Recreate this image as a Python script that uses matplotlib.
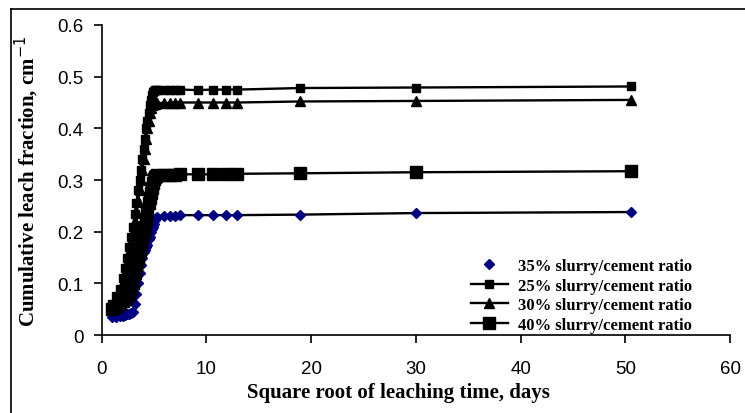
import matplotlib.pyplot as plt
from matplotlib.lines import Line2D

# square root of leaching time (days) at each sampling point
sqrt_t = [1.0, 1.41, 1.73, 2.0, 2.24, 2.45, 2.65, 2.83, 3.0, 3.16, 3.32, 3.46, 3.61, 3.74,
          3.87, 4.0, 4.12, 4.24, 4.36, 4.47, 4.58, 4.69, 4.8, 4.9, 5.0, 5.1, 5.2, 5.29,
          5.92, 6.48, 7.0, 7.48, 9.17, 10.58, 11.83, 12.96, 18.97, 30.0, 50.5]

cf_35 = [0.035, 0.034, 0.036, 0.037, 0.038, 0.040, 0.041, 0.042, 0.045, 0.060, 0.080, 0.100,
         0.120, 0.135, 0.150, 0.160, 0.165, 0.170, 0.175, 0.185, 0.190, 0.200, 0.205, 0.210,
         0.215, 0.222, 0.227, 0.229, 0.230, 0.231, 0.231, 0.232, 0.232, 0.232, 0.232, 0.232,
         0.233, 0.236, 0.238]
cf_25 = [0.060, 0.075, 0.090, 0.110, 0.130, 0.150, 0.170, 0.190, 0.210, 0.235, 0.255, 0.280,
         0.300, 0.320, 0.340, 0.360, 0.380, 0.400, 0.415, 0.430, 0.445, 0.455, 0.465, 0.470,
         0.472, 0.474, 0.475, 0.475, 0.475, 0.475, 0.475, 0.475, 0.474, 0.475, 0.475, 0.475,
         0.478, 0.479, 0.481]
cf_30 = [0.055, 0.070, 0.085, 0.100, 0.120, 0.140, 0.160, 0.180, 0.200, 0.220, 0.240, 0.260,
         0.280, 0.300, 0.320, 0.340, 0.360, 0.380, 0.400, 0.415, 0.430, 0.440, 0.445, 0.447,
         0.448, 0.448, 0.449, 0.449, 0.449, 0.449, 0.450, 0.450, 0.450, 0.450, 0.450, 0.450,
         0.452, 0.453, 0.455]
cf_40 = [0.050, 0.055, 0.060, 0.065, 0.070, 0.075, 0.080, 0.090, 0.100, 0.120, 0.135, 0.150,
         0.165, 0.180, 0.190, 0.200, 0.210, 0.225, 0.240, 0.255, 0.265, 0.275, 0.285, 0.295,
         0.302, 0.306, 0.308, 0.309, 0.310, 0.310, 0.310, 0.311, 0.311, 0.311, 0.312, 0.312,
         0.313, 0.315, 0.317]

labels = ["35% slurry/cement ratio", "25% slurry/cement ratio",
          "30% slurry/cement ratio", "40% slurry/cement ratio"]

fig = plt.figure(figsize=(7.45, 4.14), dpi=100)
ax = fig.add_axes([0.1365, 0.1884, 0.8435, 0.7488])

ax.plot(sqrt_t, cf_35, color="black", lw=1.7, marker="D", ms=5, mfc="#000080", mec="#000080")
ax.plot(sqrt_t, cf_25, color="black", lw=1.7, marker="s", ms=5.5)
ax.plot(sqrt_t, cf_30, color="black", lw=1.7, marker="^", ms=6.5)
ax.plot(sqrt_t, cf_40, color="black", lw=1.7, marker="s", ms=8.5)

ax.set_xlim(0, 60)
ax.set_ylim(0, 0.6)
ax.set_xticks(range(0, 61, 10))
ax.set_yticks([0, 0.1, 0.2, 0.3, 0.4, 0.5, 0.6])
ax.set_yticklabels(["0", "0.1", "0.2", "0.3", "0.4", "0.5", "0.6"])
for s in ["top", "right"]:
    ax.spines[s].set_visible(False)
for s in ["left", "bottom"]:
    ax.spines[s].set_linewidth(1.2)
ax.tick_params(direction="out", length=6, width=1.2, labelsize=13.5)
ax.tick_params(axis="x", pad=12)
ax.tick_params(axis="y", pad=7)
for t in ax.get_xticklabels() + ax.get_yticklabels():
    t.set_fontfamily("Liberation Sans")

serif_bold = dict(family="Liberation Serif", weight="bold", size=15)
ax.set_xlabel("Square root of leaching time, days", **serif_bold)
ax.xaxis.set_label_coords(0.473, -0.15)
ax.set_ylabel("Cumulative leach fraction, cm$^{-1}$", labelpad=12, **serif_bold)

handles = [
    Line2D([], [], ls="none", marker="D", ms=5, mfc="#000080", mec="#000080"),
    Line2D([], [], color="black", lw=1.7, marker="s", ms=5.5),
    Line2D([], [], color="black", lw=1.7, marker="^", ms=6.5),
    Line2D([], [], color="black", lw=1.7, marker="s", ms=8.5),
]
ax.legend(handles, labels, loc="lower left", bbox_to_anchor=(0.577, -0.015), frameon=False,
          prop=dict(family="Liberation Serif", weight="bold", size=12),
          handlelength=2.2, handletextpad=0.6, labelspacing=0.22, borderaxespad=0)

# chart border (left and top edges visible in the original)
fig.add_artist(Line2D([0.015, 0.015], [0.0, 0.976], transform=fig.transFigure, color="black", lw=1.2))
fig.add_artist(Line2D([0.015, 1.0], [0.976, 0.976], transform=fig.transFigure, color="black", lw=1.2))

fig.savefig("out.png", dpi=100)
